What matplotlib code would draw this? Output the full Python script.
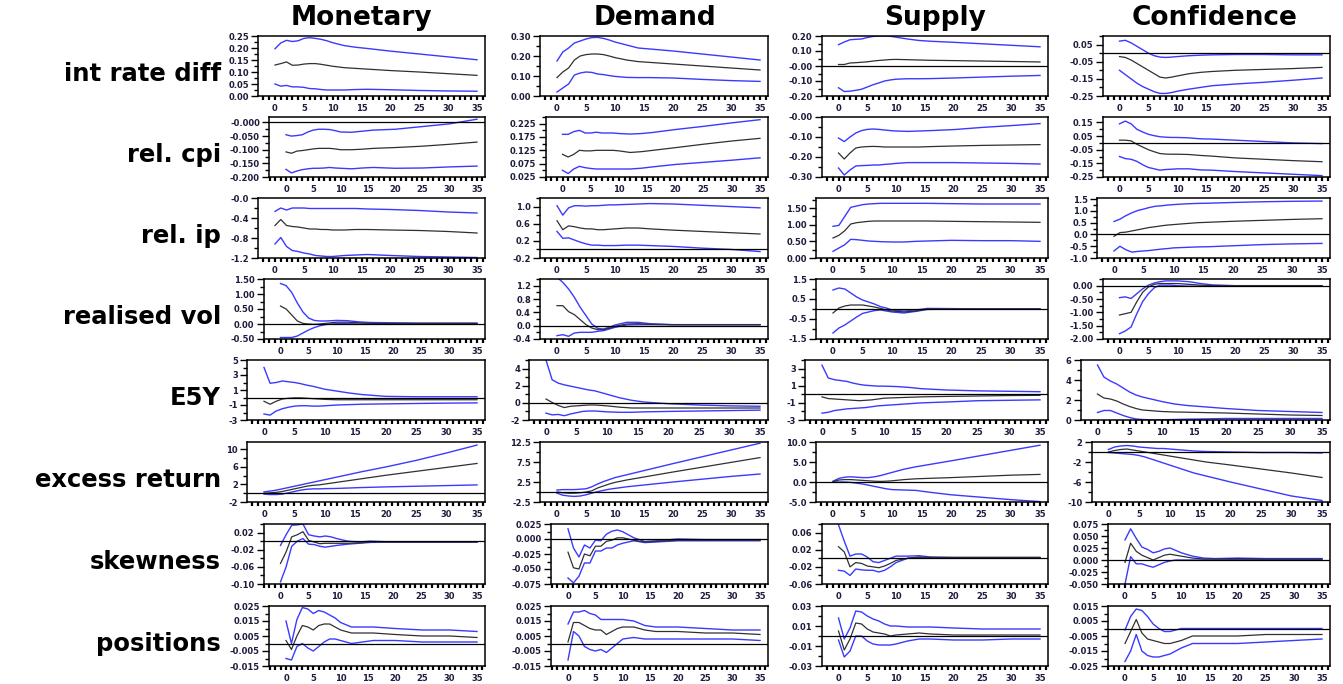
import matplotlib
matplotlib.use("Agg")
import matplotlib.pyplot as plt
from matplotlib.ticker import AutoMinorLocator, MultipleLocator

# horizons (months) at which each response is recorded
H = [0, 1, 2, 3, 4, 5, 6, 7, 8, 9, 10, 12, 14, 16, 20, 25, 30, 35]

shocks = ["Monetary", "Demand", "Supply", "Confidence"]
variables = ["int rate diff", "rel. cpi", "rel. ip", "realised vol", "E5Y",
             "excess return", "skewness", "positions"]

# each response: [upper band, point estimate, lower band]
irate_mon = [[0.197, 0.221, 0.232, 0.227, 0.23, 0.24, 0.243, 0.24, 0.236, 0.23, 0.222, 0.21, 0.203, 0.198, 0.187, 0.175, 0.163, 0.151],
             [0.129, 0.135, 0.142, 0.128, 0.129, 0.133, 0.135, 0.135, 0.132, 0.128, 0.124, 0.118, 0.115, 0.112, 0.106, 0.100, 0.093, 0.086],
             [0.05, 0.041, 0.044, 0.038, 0.038, 0.036, 0.031, 0.03, 0.027, 0.025, 0.025, 0.025, 0.027, 0.028, 0.026, 0.023, 0.021, 0.02]]
irate_dem = [[0.175, 0.22, 0.24, 0.265, 0.275, 0.285, 0.292, 0.293, 0.288, 0.28, 0.27, 0.255, 0.24, 0.235, 0.225, 0.21, 0.195, 0.18],
             [0.092, 0.12, 0.14, 0.18, 0.2, 0.207, 0.21, 0.21, 0.207, 0.2, 0.192, 0.18, 0.172, 0.168, 0.16, 0.15, 0.14, 0.13],
             [0.02, 0.04, 0.06, 0.105, 0.115, 0.12, 0.118, 0.11, 0.107, 0.102, 0.098, 0.093, 0.092, 0.092, 0.09, 0.083, 0.077, 0.073]]
irate_sup = [[0.142, 0.16, 0.175, 0.178, 0.18, 0.19, 0.197, 0.2, 0.2, 0.198, 0.192, 0.18, 0.17, 0.165, 0.158, 0.148, 0.138, 0.128],
             [0.01, 0.01, 0.02, 0.022, 0.025, 0.028, 0.033, 0.037, 0.04, 0.043, 0.044, 0.042, 0.04, 0.038, 0.036, 0.033, 0.03, 0.027],
             [-0.145, -0.17, -0.168, -0.162, -0.155, -0.14, -0.125, -0.113, -0.1, -0.093, -0.088, -0.085, -0.085, -0.084, -0.08, -0.074, -0.068, -0.063]]
irate_conf = [[0.07, 0.075, 0.06, 0.04, 0.02, 0.0, -0.015, -0.023, -0.025, -0.023, -0.02, -0.015, -0.012, -0.01, -0.008, -0.008, -0.01, -0.01],
              [-0.02, -0.025, -0.04, -0.06, -0.08, -0.1, -0.12, -0.14, -0.145, -0.14, -0.133, -0.12, -0.112, -0.107, -0.1, -0.095, -0.09, -0.083],
              [-0.1, -0.125, -0.15, -0.175, -0.195, -0.21, -0.225, -0.235, -0.235, -0.23, -0.222, -0.21, -0.2, -0.19, -0.18, -0.17, -0.158, -0.145]]

cpi_mon = [[-0.045, -0.05, -0.048, -0.045, -0.035, -0.028, -0.025, -0.025, -0.026, -0.03, -0.035, -0.036, -0.032, -0.028, -0.025, -0.015, -0.005, 0.012],
           [-0.108, -0.113, -0.105, -0.103, -0.1, -0.097, -0.095, -0.095, -0.095, -0.097, -0.1, -0.1, -0.098, -0.095, -0.092, -0.087, -0.08, -0.072],
           [-0.172, -0.185, -0.178, -0.173, -0.17, -0.168, -0.168, -0.167, -0.165, -0.167, -0.168, -0.17, -0.167, -0.165, -0.168, -0.167, -0.163, -0.16]]
cpi_dem = [[0.185, 0.185, 0.195, 0.2, 0.19, 0.19, 0.193, 0.19, 0.19, 0.19, 0.188, 0.186, 0.188, 0.192, 0.203, 0.215, 0.228, 0.24],
           [0.11, 0.1, 0.11, 0.125, 0.123, 0.123, 0.125, 0.125, 0.125, 0.125, 0.123, 0.117, 0.12, 0.125, 0.135, 0.148, 0.16, 0.17],
           [0.05, 0.038, 0.055, 0.065, 0.06, 0.057, 0.055, 0.055, 0.055, 0.055, 0.055, 0.055, 0.058, 0.063, 0.072, 0.08, 0.088, 0.097]]
cpi_sup = [[-0.105, -0.123, -0.1, -0.08, -0.068, -0.062, -0.06, -0.062, -0.065, -0.068, -0.07, -0.072, -0.07, -0.068, -0.063, -0.052, -0.043, -0.033],
           [-0.18, -0.21, -0.18, -0.155, -0.15, -0.148, -0.147, -0.148, -0.15, -0.15, -0.15, -0.15, -0.15, -0.148, -0.145, -0.142, -0.14, -0.138],
           [-0.255, -0.29, -0.265, -0.245, -0.243, -0.242, -0.24, -0.24, -0.237, -0.235, -0.232, -0.228, -0.228, -0.228, -0.228, -0.23, -0.232, -0.235]]
cpi_conf = [[0.14, 0.16, 0.14, 0.1, 0.08, 0.063, 0.053, 0.045, 0.042, 0.04, 0.04, 0.037, 0.03, 0.028, 0.02, 0.01, 0.0, -0.005],
            [0.02, 0.02, 0.015, -0.01, -0.03, -0.05, -0.065, -0.078, -0.082, -0.083, -0.083, -0.085, -0.092, -0.097, -0.11, -0.12, -0.13, -0.138],
            [-0.1, -0.115, -0.12, -0.135, -0.16, -0.18, -0.19, -0.2, -0.195, -0.193, -0.19, -0.19, -0.198, -0.2, -0.21, -0.22, -0.23, -0.24]]

ip_mon = [[-0.267, -0.2, -0.24, -0.2, -0.2, -0.2, -0.21, -0.21, -0.21, -0.21, -0.21, -0.21, -0.21, -0.22, -0.23, -0.25, -0.28, -0.3],
          [-0.55, -0.43, -0.55, -0.57, -0.58, -0.6, -0.62, -0.62, -0.63, -0.63, -0.64, -0.64, -0.63, -0.63, -0.64, -0.65, -0.67, -0.7],
          [-0.92, -0.79, -0.97, -1.05, -1.07, -1.1, -1.12, -1.15, -1.16, -1.17, -1.17, -1.15, -1.14, -1.13, -1.15, -1.17, -1.18, -1.19]]
ip_dem = [[1.02, 0.8, 0.97, 1.02, 1.02, 1.01, 1.02, 1.02, 1.03, 1.04, 1.04, 1.05, 1.06, 1.07, 1.06, 1.03, 1.0, 0.97],
          [0.67, 0.46, 0.55, 0.53, 0.5, 0.48, 0.48, 0.46, 0.46, 0.47, 0.48, 0.5, 0.5, 0.48, 0.45, 0.42, 0.39, 0.36],
          [0.42, 0.26, 0.27, 0.22, 0.17, 0.13, 0.1, 0.1, 0.09, 0.09, 0.09, 0.1, 0.1, 0.09, 0.07, 0.03, 0.0, -0.05]]
ip_sup = [[0.95, 0.98, 1.25, 1.52, 1.56, 1.6, 1.62, 1.63, 1.64, 1.64, 1.64, 1.64, 1.64, 1.64, 1.63, 1.62, 1.62, 1.62],
          [0.6, 0.68, 0.82, 1.02, 1.06, 1.08, 1.1, 1.11, 1.11, 1.11, 1.11, 1.11, 1.11, 1.11, 1.1, 1.09, 1.08, 1.07],
          [0.2, 0.3, 0.4, 0.56, 0.55, 0.53, 0.51, 0.5, 0.49, 0.485, 0.48, 0.48, 0.5, 0.51, 0.53, 0.52, 0.52, 0.5]]
ip_conf = [[0.55, 0.65, 0.8, 0.92, 1.02, 1.08, 1.15, 1.2, 1.22, 1.25, 1.27, 1.3, 1.32, 1.33, 1.36, 1.39, 1.41, 1.42],
           [-0.08, 0.08, 0.1, 0.15, 0.2, 0.25, 0.3, 0.33, 0.37, 0.4, 0.42, 0.46, 0.5, 0.52, 0.56, 0.6, 0.64, 0.67],
           [-0.7, -0.5, -0.65, -0.75, -0.72, -0.7, -0.68, -0.65, -0.62, -0.6, -0.57, -0.55, -0.53, -0.52, -0.48, -0.43, -0.4, -0.38]]

vol_mon = [[1.35, 1.28, 1.05, 0.7, 0.4, 0.2, 0.12, 0.1, 0.1, 0.11, 0.12, 0.11, 0.07, 0.05, 0.04, 0.03, 0.03, 0.03],
           [0.6, 0.5, 0.3, 0.1, 0.02, 0.0, -0.01, 0.0, 0.02, 0.04, 0.06, 0.06, 0.04, 0.02, 0.02, 0.02, 0.02, 0.02],
           [-0.45, -0.45, -0.45, -0.4, -0.3, -0.2, -0.12, -0.06, -0.02, 0.0, 0.01, 0.01, 0.0, 0.0, 0.0, 0.0, 0.0, 0.0]]
vol_dem = [[1.45, 1.3, 1.1, 0.85, 0.55, 0.3, 0.05, -0.08, -0.1, -0.05, 0.02, 0.1, 0.1, 0.06, 0.03, 0.03, 0.03, 0.03],
           [0.6, 0.6, 0.42, 0.33, 0.18, 0.03, -0.07, -0.12, -0.12, -0.08, -0.02, 0.05, 0.06, 0.04, 0.03, 0.03, 0.03, 0.03],
           [-0.3, -0.27, -0.32, -0.22, -0.2, -0.2, -0.2, -0.17, -0.15, -0.1, -0.05, 0.02, 0.03, 0.03, 0.03, 0.03, 0.03, 0.03]]
vol_sup = [[0.95, 1.05, 1.0, 0.8, 0.6, 0.45, 0.35, 0.25, 0.12, 0.05, -0.05, -0.1, -0.05, 0.03, 0.02, 0.0, 0.0, 0.0],
           [-0.2, 0.05, 0.15, 0.2, 0.2, 0.2, 0.15, 0.1, 0.03, -0.05, -0.1, -0.15, -0.1, 0.0, 0.0, 0.0, 0.0, 0.0],
           [-1.2, -0.95, -0.8, -0.6, -0.4, -0.22, -0.15, -0.08, -0.05, -0.1, -0.15, -0.2, -0.12, -0.02, 0.0, 0.0, 0.0, 0.0]]
vol_conf = [[-0.45, -0.42, -0.48, -0.3, -0.12, 0.02, 0.1, 0.15, 0.18, 0.18, 0.18, 0.15, 0.08, 0.03, 0.0, 0.0, 0.0, 0.0],
            [-1.1, -1.05, -1.0, -0.6, -0.25, -0.05, 0.05, 0.08, 0.08, 0.08, 0.08, 0.05, 0.02, 0.0, 0.0, 0.0, 0.0, 0.0],
            [-1.8, -1.7, -1.55, -1.05, -0.6, -0.3, -0.08, 0.02, 0.02, 0.02, 0.0, -0.02, -0.02, -0.02, -0.02, -0.02, -0.02, -0.02]]

e5y_mon = [[4.0, 1.9, 2.0, 2.2, 2.1, 2.0, 1.85, 1.65, 1.5, 1.3, 1.1, 0.85, 0.6, 0.4, 0.15, 0.1, 0.1, 0.1],
           [-0.5, -0.9, -0.5, -0.2, -0.1, -0.05, -0.05, -0.1, -0.15, -0.2, -0.25, -0.3, -0.3, -0.3, -0.3, -0.3, -0.3, -0.3],
           [-2.2, -2.35, -1.8, -1.5, -1.3, -1.15, -1.1, -1.1, -1.15, -1.15, -1.1, -1.0, -0.95, -0.9, -0.85, -0.8, -0.75, -0.72]]
e5y_dem = [[5.0, 2.7, 2.3, 2.1, 1.95, 1.8, 1.65, 1.5, 1.4, 1.2, 1.0, 0.6, 0.3, 0.1, -0.1, -0.25, -0.35, -0.4],
           [0.45, 0.05, -0.3, -0.55, -0.4, -0.35, -0.3, -0.25, -0.25, -0.3, -0.35, -0.5, -0.6, -0.6, -0.6, -0.6, -0.6, -0.6],
           [-1.2, -1.4, -1.35, -1.5, -1.3, -1.15, -1.0, -0.95, -0.95, -1.0, -1.05, -1.1, -1.1, -1.05, -1.0, -0.95, -0.9, -0.85]]
e5y_sup = [[3.4, 1.9, 1.7, 1.6, 1.5, 1.3, 1.15, 1.05, 1.0, 0.95, 0.95, 0.9, 0.8, 0.65, 0.5, 0.4, 0.35, 0.3],
           [-0.3, -0.5, -0.55, -0.6, -0.65, -0.7, -0.75, -0.7, -0.65, -0.55, -0.45, -0.4, -0.35, -0.3, -0.25, -0.2, -0.15, -0.12],
           [-2.2, -2.1, -1.9, -1.8, -1.7, -1.65, -1.6, -1.55, -1.45, -1.35, -1.3, -1.2, -1.1, -1.0, -0.9, -0.75, -0.7, -0.65]]
e5y_conf = [[5.5, 4.3, 3.9, 3.6, 3.2, 2.8, 2.5, 2.3, 2.15, 2.0, 1.85, 1.6, 1.45, 1.35, 1.15, 0.95, 0.85, 0.75],
            [2.6, 2.2, 2.1, 1.9, 1.6, 1.35, 1.15, 1.0, 0.95, 0.9, 0.85, 0.8, 0.78, 0.75, 0.7, 0.6, 0.5, 0.45],
            [0.75, 0.95, 0.95, 0.7, 0.45, 0.25, 0.1, 0.05, 0.02, 0.0, 0.02, 0.05, 0.08, 0.1, 0.15, 0.15, 0.15, 0.15]]

xr_mon = [[0.3, 0.5, 0.7, 1.0, 1.3, 1.6, 1.9, 2.2, 2.5, 2.8, 3.1, 3.7, 4.3, 4.9, 6.0, 7.5, 9.2, 11.0],
          [0.0, 0.1, 0.2, 0.4, 0.7, 1.0, 1.3, 1.6, 1.8, 1.9, 2.1, 2.5, 2.9, 3.3, 4.1, 5.0, 5.9, 6.8],
          [-0.2, -0.3, -0.3, -0.2, 0.1, 0.4, 0.7, 0.9, 1.0, 1.0, 1.05, 1.1, 1.2, 1.3, 1.45, 1.6, 1.75, 1.9]]
xr_dem = [[0.5, 0.6, 0.6, 0.6, 0.7, 0.8, 1.3, 2.0, 2.6, 3.1, 3.6, 4.3, 5.0, 5.7, 7.1, 8.8, 10.5, 12.2],
          [0.0, -0.2, -0.3, -0.3, -0.2, 0.0, 0.3, 1.0, 1.5, 2.0, 2.4, 3.0, 3.5, 4.0, 5.0, 6.2, 7.4, 8.6],
          [-0.3, -0.8, -1.0, -1.1, -1.0, -0.7, -0.3, 0.1, 0.4, 0.7, 0.9, 1.3, 1.6, 1.9, 2.5, 3.2, 3.9, 4.5]]
xr_sup = [[0.2, 0.9, 1.2, 1.3, 1.2, 1.1, 1.1, 1.3, 1.6, 2.0, 2.4, 3.2, 3.8, 4.3, 5.3, 6.6, 7.9, 9.2],
          [0.1, 0.5, 0.6, 0.6, 0.5, 0.4, 0.3, 0.2, 0.15, 0.2, 0.3, 0.6, 0.8, 0.9, 1.1, 1.4, 1.7, 1.9],
          [0.0, 0.0, 0.0, -0.1, -0.3, -0.5, -0.8, -1.1, -1.4, -1.7, -1.9, -2.0, -2.1, -2.5, -3.2, -3.8, -4.4, -4.9]]
xr_conf = [[0.5, 1.0, 1.2, 1.3, 1.2, 1.0, 0.9, 0.8, 0.7, 0.7, 0.6, 0.4, 0.2, 0.1, 0.0, -0.1, -0.1, -0.2],
           [0.0, 0.3, 0.5, 0.6, 0.4, 0.2, 0.0, -0.2, -0.4, -0.6, -0.8, -1.2, -1.6, -2.0, -2.6, -3.4, -4.2, -5.1],
           [-0.1, -0.2, -0.3, -0.4, -0.5, -0.7, -1.0, -1.4, -1.8, -2.2, -2.6, -3.4, -4.2, -4.8, -6.0, -7.4, -8.8, -9.7]]

skew_mon = [[-0.01, 0.015, 0.037, 0.038, 0.04, 0.015, 0.012, 0.01, 0.012, 0.01, 0.006, 0.0, -0.002, 0.0, -0.002, -0.002, -0.002, -0.002],
            [-0.052, -0.025, 0.01, 0.015, 0.022, 0.002, -0.002, -0.006, -0.005, -0.005, -0.005, -0.005, -0.004, -0.002, -0.002, -0.002, -0.002, -0.002],
            [-0.095, -0.06, -0.012, 0.0, 0.006, -0.007, -0.008, -0.012, -0.014, -0.012, -0.01, -0.007, -0.005, -0.003, -0.002, -0.002, -0.002, -0.002]]
skew_dem = [[0.017, -0.015, -0.03, -0.01, -0.015, -0.002, -0.003, 0.008, 0.013, 0.015, 0.012, 0.002, -0.004, -0.003, 0.0, -0.001, -0.001, -0.001],
            [-0.022, -0.048, -0.05, -0.025, -0.028, -0.012, -0.012, -0.004, -0.002, 0.002, 0.002, -0.002, -0.005, -0.004, -0.002, -0.002, -0.002, -0.002],
            [-0.065, -0.073, -0.062, -0.04, -0.04, -0.02, -0.02, -0.015, -0.015, -0.01, -0.007, -0.003, -0.006, -0.005, -0.003, -0.003, -0.003, -0.003]]
skew_sup = [[0.078, 0.04, 0.005, 0.01, 0.01, 0.003, -0.008, -0.01, -0.005, 0.0, 0.005, 0.005, 0.006, 0.003, 0.002, 0.002, 0.002, 0.002],
            [0.027, 0.015, -0.02, -0.01, -0.012, -0.018, -0.02, -0.022, -0.018, -0.012, -0.005, 0.0, 0.003, 0.002, 0.002, 0.002, 0.002, 0.002],
            [-0.028, -0.03, -0.04, -0.025, -0.027, -0.028, -0.028, -0.032, -0.028, -0.02, -0.01, 0.0, 0.002, 0.0, 0.0, 0.0, 0.0, 0.0]]
skew_conf = [[0.042, 0.065, 0.045, 0.027, 0.022, 0.015, 0.018, 0.023, 0.025, 0.02, 0.015, 0.008, 0.004, 0.003, 0.004, 0.003, 0.003, 0.003],
             [-0.005, 0.035, 0.018, 0.01, 0.005, 0.0, 0.005, 0.01, 0.012, 0.01, 0.008, 0.004, 0.002, 0.002, 0.003, 0.002, 0.002, 0.002],
             [-0.05, 0.007, -0.008, -0.008, -0.012, -0.015, -0.01, -0.005, -0.002, 0.0, 0.0, 0.0, 0.0, 0.0, 0.001, 0.001, 0.001, 0.001]]

pos_mon = [[0.015, 0.0, 0.016, 0.024, 0.023, 0.02, 0.022, 0.021, 0.019, 0.017, 0.014, 0.011, 0.011, 0.011, 0.01, 0.009, 0.009, 0.008],
           [0.002, -0.004, 0.005, 0.012, 0.011, 0.009, 0.012, 0.013, 0.013, 0.011, 0.009, 0.007, 0.007, 0.007, 0.006, 0.005, 0.005, 0.004],
           [-0.01, -0.011, -0.002, 0.0, -0.003, -0.005, -0.002, 0.001, 0.003, 0.003, 0.002, 0.0, 0.001, 0.002, 0.002, 0.001, 0.001, 0.001]]
pos_dem = [[0.013, 0.021, 0.021, 0.022, 0.02, 0.019, 0.016, 0.016, 0.016, 0.016, 0.016, 0.015, 0.012, 0.011, 0.011, 0.01, 0.009, 0.009],
           [0.001, 0.014, 0.014, 0.012, 0.01, 0.009, 0.009, 0.006, 0.008, 0.01, 0.011, 0.011, 0.009, 0.008, 0.008, 0.007, 0.007, 0.006],
           [-0.011, 0.008, 0.005, -0.002, -0.004, -0.005, -0.004, -0.006, -0.003, 0.0, 0.003, 0.004, 0.003, 0.003, 0.003, 0.003, 0.003, 0.002]]
pos_sup = [[0.018, -0.003, 0.008, 0.025, 0.024, 0.02, 0.017, 0.015, 0.012, 0.01, 0.01, 0.009, 0.009, 0.009, 0.008, 0.007, 0.007, 0.007],
           [0.005, -0.014, -0.003, 0.013, 0.012, 0.007, 0.004, 0.003, 0.002, 0.0, 0.001, 0.002, 0.003, 0.002, 0.001, 0.001, 0.001, 0.001],
           [-0.004, -0.021, -0.015, 0.0, 0.0, -0.005, -0.008, -0.009, -0.009, -0.009, -0.008, -0.005, -0.003, -0.003, -0.004, -0.004, -0.003, -0.003]]
pos_conf = [[-0.001, 0.008, 0.013, 0.012, 0.008, 0.003, 0.0, -0.002, -0.002, -0.001, 0.0, 0.0, 0.0, 0.0, 0.0, 0.0, 0.0, 0.0],
            [-0.01, -0.002, 0.006, -0.003, -0.007, -0.008, -0.009, -0.01, -0.01, -0.009, -0.008, -0.005, -0.005, -0.005, -0.005, -0.004, -0.004, -0.004],
            [-0.022, -0.015, -0.004, -0.015, -0.018, -0.019, -0.019, -0.018, -0.017, -0.015, -0.013, -0.01, -0.01, -0.01, -0.01, -0.009, -0.008, -0.007]]

# y tick labels for each panel (row = variable, column = shock)
yticks_irate = [["0.00", "0.05", "0.10", "0.15", "0.20", "0.25"], ["0.00", "0.10", "0.20", "0.30"],
                ["-0.20", "-0.10", "-0.00", "0.10", "0.20"], ["-0.25", "-0.15", "-0.05", "0.05"]]
yticks_cpi = [["-0.200", "-0.150", "-0.100", "-0.050", "-0.000"], ["0.025", "0.075", "0.125", "0.175", "0.225"],
              ["-0.30", "-0.20", "-0.10", "-0.00"], ["-0.25", "-0.15", "-0.05", "0.05", "0.15"]]
yticks_ip = [["-1.2", "-0.8", "-0.4", "-0.0"], ["-0.2", "0.2", "0.6", "1.0"],
             ["0.00", "0.50", "1.00", "1.50"], ["-1.0", "-0.5", "0.0", "0.5", "1.0", "1.5"]]
yticks_vol = [["-0.50", "0.00", "0.50", "1.00", "1.50"], ["-0.4", "0.0", "0.4", "0.8", "1.2"],
              ["-1.5", "-0.5", "0.5", "1.5"], ["-2.00", "-1.50", "-1.00", "-0.50", "0.00"]]
yticks_e5y = [["-3", "-1", "1", "3", "5"], ["-2", "0", "2", "4"], ["-3", "-1", "1", "3"], ["0", "2", "4", "6"]]
yticks_xr = [["-2", "2", "6", "10"], ["-2.5", "2.5", "7.5", "12.5"],
             ["-5.0", "0.0", "5.0", "10.0"], ["-10", "-6", "-2", "2"]]
yticks_skew = [["-0.10", "-0.06", "-0.02", "0.02"], ["-0.075", "-0.050", "-0.025", "0.000", "0.025"],
               ["-0.06", "-0.02", "0.02", "0.06"], ["-0.050", "-0.025", "0.000", "0.025", "0.050", "0.075"]]
yticks_pos = [["-0.015", "-0.005", "0.005", "0.015", "0.025"], ["-0.015", "-0.005", "0.005", "0.015", "0.025"],
              ["-0.03", "-0.01", "0.01", "0.03"], ["-0.025", "-0.015", "-0.005", "0.005", "0.015"]]

# vertical range of each panel
ylims = [[(0, 0.25), (0, 0.30), (-0.2, 0.2), (-0.25, 0.10)],
         [(-0.2, 0.02), (0.025, 0.25), (-0.3, 0.0), (-0.25, 0.19)],
         [(-1.2, 0.0), (-0.2, 1.2), (0, 1.8), (-1.0, 1.55)],
         [(-0.5, 1.5), (-0.4, 1.4), (-1.5, 1.5), (-2.0, 0.25)],
         [(-3, 5), (-2, 5), (-3, 4), (0, 6)],
         [(-2, 11.7), (-2.5, 12.5), (-5, 10), (-10, 2)],
         [(-0.1, 0.04), (-0.075, 0.025), (-0.06, 0.08), (-0.05, 0.075)],
         [(-0.015, 0.025), (-0.015, 0.025), (-0.03, 0.03), (-0.025, 0.015)]]

responses = [[irate_mon, irate_dem, irate_sup, irate_conf],
             [cpi_mon, cpi_dem, cpi_sup, cpi_conf],
             [ip_mon, ip_dem, ip_sup, ip_conf],
             [vol_mon, vol_dem, vol_sup, vol_conf],
             [e5y_mon, e5y_dem, e5y_sup, e5y_conf],
             [xr_mon, xr_dem, xr_sup, xr_conf],
             [skew_mon, skew_dem, skew_sup, skew_conf],
             [pos_mon, pos_dem, pos_sup, pos_conf]]
yticks = [yticks_irate, yticks_cpi, yticks_ip, yticks_vol, yticks_e5y, yticks_xr, yticks_skew, yticks_pos]

# --- layout in pixels ---
W, HT = 1343, 684
col_base = [236, 518, 794, 1075]
col_right = [485, 768, 1048, 1330]
title_x = [361, 655, 935, 1215]
row_top = [36, 117, 198, 279, 360, 442, 524, 606]
row_h = 60
char_w = 5.5
pad0, pad35 = 17, 8

BLUE = "#3a3aff"
LBL = "#1c1c3c"

fig = plt.figure(figsize=(W / 100, HT / 100), dpi=100)

for c, name in enumerate(shocks):
    fig.text(title_x[c] / W, 1 - 18 / HT, name, ha="center", va="center",
             fontsize=19, fontweight="bold")

for r in range(len(variables)):
    fig.text(221 / W, 1 - (row_top[r] + row_h / 2 + 8) / HT, variables[r],
             ha="right", va="center", fontsize=17.5, fontweight="bold")
    for c in range(len(shocks)):
        labels = yticks[r][c]
        left = col_base[c] + char_w * max(len(s) for s in labels)
        right = col_right[c]
        ax = fig.add_axes([left / W, 1 - (row_top[r] + row_h) / HT,
                           (right - left) / W, row_h / HT])
        hi, mid, lo = responses[r][c]
        ax.plot(H, hi, color=BLUE, lw=1.0)
        ax.plot(H, lo, color=BLUE, lw=1.0)
        ax.plot(H, mid, color="#303030", lw=0.9)

        y0, y1 = ylims[r][c]
        if y0 < 0 < y1:
            ax.axhline(0, color="black", lw=0.9)
        ax.set_ylim(y0, y1)

        scale = (right - left - pad0 - pad35) / 35.0
        ax.set_xlim(-pad0 / scale, 35 + pad35 / scale)

        ax.set_yticks([float(s) for s in labels])
        ax.set_yticklabels(labels)
        ax.yaxis.set_minor_locator(AutoMinorLocator(2))
        ax.xaxis.set_major_locator(MultipleLocator(5))
        ax.xaxis.set_minor_locator(MultipleLocator(1))

        ax.tick_params(axis="y", which="major", length=5, width=1.0, pad=1.5,
                       labelsize=6, labelcolor=LBL, direction="out")
        ax.tick_params(axis="y", which="minor", length=3, width=1.0, direction="out")
        ax.tick_params(axis="x", which="major", length=3, width=1.6, pad=2.5,
                       labelsize=6, labelcolor=LBL, direction="out")
        ax.tick_params(axis="x", which="minor", length=3, width=1.6, direction="out")
        for lab in ax.get_xticklabels() + ax.get_yticklabels():
            lab.set_fontweight("bold")
        for sp in ax.spines.values():
            sp.set_linewidth(1.1)

fig.savefig("out.png", dpi=100)
